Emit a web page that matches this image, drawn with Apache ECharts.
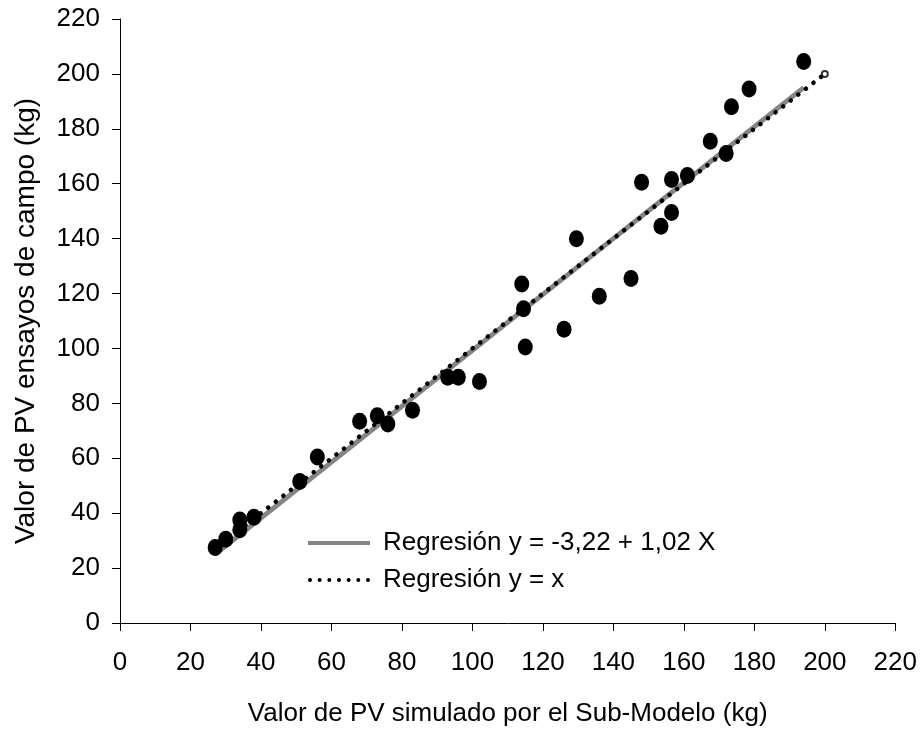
<!DOCTYPE html>
<html>
<head>
<meta charset="utf-8">
<script src="https://cdn.jsdelivr.net/npm/echarts@6/dist/echarts.min.js"></script>
<style>html,body{margin:0;padding:0;background:#fff}#c{width:920px;height:732px}</style>
</head>
<body>
<div id="c"></div>
<script>
// Simulated PV (x) and observed field PV (y), kg
const simX = [27, 30, 34, 34, 38, 51, 56, 68, 73, 76, 83, 93, 96, 102, 114, 114.5, 115, 126, 129.5, 136, 145, 148, 153.5, 156.5, 156.5, 161, 167.5, 172, 173.5, 178.5, 194];
const obsY = [27.5, 30.5, 37.5, 34, 38.5, 51.5, 60.5, 73.5, 75.5, 72.5, 77.5, 89.5, 89.5, 88, 123.5, 114.5, 100.5, 107, 140, 119, 125.5, 160.5, 144.5, 161.5, 149.5, 163, 175.5, 171, 188, 194.5, 204.5];
// Regression line endpoints
const regX = [27, 194];
const regY = [25, 195];
// Identity line endpoints
const idX = [27, 200];
const idY = [27, 200];
const regName = 'Regresión y = -3,22 + 1,02 X';
const idName = 'Regresión y = x';
const xTitle = 'Valor de PV simulado por el Sub-Modelo (kg)';
const yTitle = 'Valor de PV ensayos de campo (kg)';

const pts = simX.map((x, i) => [x, obsY[i]]);
const reg = regX.map((x, i) => [x, regY[i]]);
const idl = idX.map((x, i) => [x, idY[i]]);

// legend icon: a row of seven dots
let dotPath = 'path://';
for (let k = 0; k < 7; k++) {
  const cx = 2 + k * 58 / 6;
  dotPath += 'M' + (cx - 2) + ',2 a2,2 0 1,0 4,0 a2,2 0 1,0 -4,0 ';
}

const font = 'Liberation Sans, Arial, sans-serif';
const chart = echarts.init(document.getElementById('c'), null, {renderer: 'canvas'});
chart.setOption({
  animation: false,
  backgroundColor: '#fff',
  textStyle: {fontFamily: font, color: '#000'},
  grid: {left: 120, right: 23, top: 19, bottom: 107},
  legend: {
    orient: 'vertical',
    left: 303, top: 525,
    itemWidth: 62, itemHeight: 4, itemGap: 11,
    textStyle: {fontSize: 26, color: '#000', fontFamily: font, padding: [0, 0, 0, 8]},
    data: [
      {name: regName, icon: 'rect', itemStyle: {color: '#858585'}},
      {name: idName, icon: dotPath, itemStyle: {color: '#000'}}
    ]
  },
  xAxis: {
    type: 'value', min: 0, max: 220, interval: 20,
    name: xTitle, nameLocation: 'middle', nameGap: 78,
    nameTextStyle: {fontSize: 26, color: '#000', fontFamily: font},
    axisLine: {show: true, lineStyle: {color: '#000', width: 1}},
    axisTick: {show: true, inside: false, length: 8, lineStyle: {color: '#000'}},
    axisLabel: {fontSize: 26, color: '#000', margin: 27, fontFamily: font},
    splitLine: {show: false}
  },
  yAxis: {
    type: 'value', min: 0, max: 220, interval: 20,
    name: yTitle, nameLocation: 'middle', nameGap: 80, nameRotate: 90,
    nameTextStyle: {fontSize: 28, color: '#000', fontFamily: font},
    axisLine: {show: true, lineStyle: {color: '#000', width: 1}},
    axisTick: {show: true, inside: false, length: 8, lineStyle: {color: '#000'}},
    axisLabel: {fontSize: 26, color: '#000', margin: 20, fontFamily: font},
    splitLine: {show: false}
  },
  series: [
    {
      name: regName, type: 'line', data: reg, symbol: 'none', z: 2,
      lineStyle: {color: '#858585', width: 5},
      itemStyle: {color: '#858585'}
    },
    {
      name: idName, type: 'line', data: idl, symbol: 'none', z: 3,
      lineStyle: {color: '#000', width: 4.5, type: [0.1, 9.5], cap: 'round'},
      itemStyle: {color: '#000'}
    },
    {
      type: 'scatter', data: [[idX[1], idY[1]]], symbol: 'circle', symbolSize: 6, z: 3,
      itemStyle: {color: '#fff', borderColor: '#000', borderWidth: 2}
    },
    {
      type: 'scatter', data: pts, symbol: 'circle', symbolSize: [15, 17], z: 4,
      itemStyle: {color: '#000', opacity: 1}
    }
  ]
});
</script>
</body>
</html>
